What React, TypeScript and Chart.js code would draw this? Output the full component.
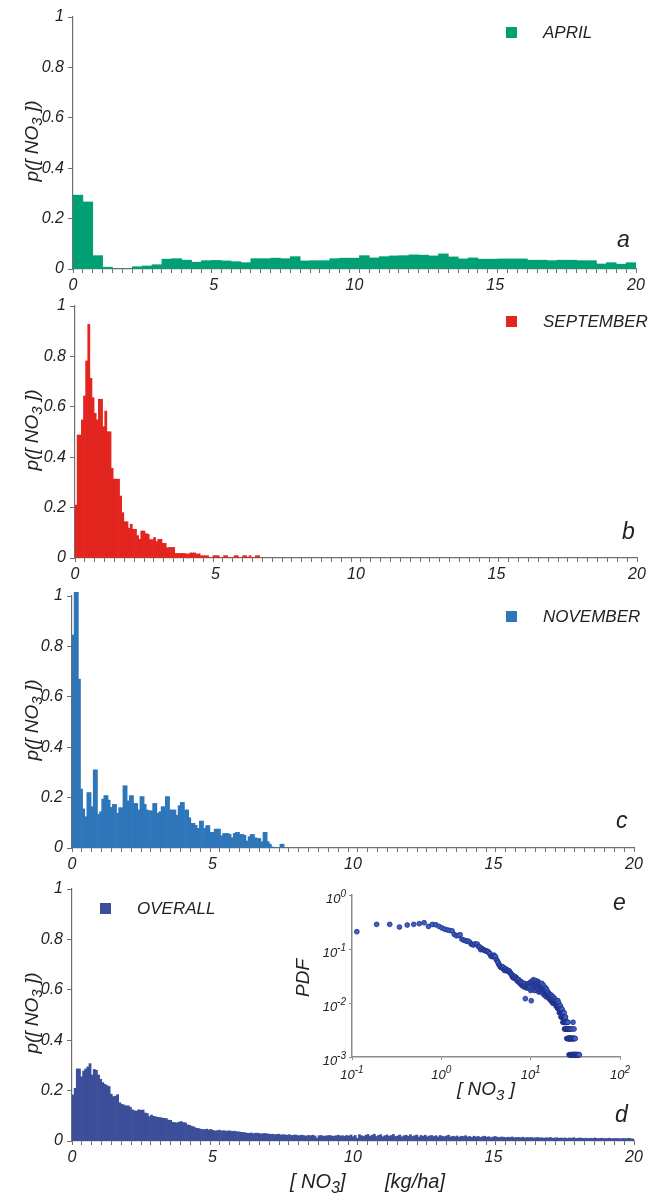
import React, { useEffect, useRef } from "react";
import { Chart, registerables } from "chart.js";

Chart.register(...registerables);

// ---------------- data ----------------
const xTickLabels = [0, 5, 10, 15, 20];
const yTickLabels = [0, 0.2, 0.4, 0.6, 0.8, 1];
const insetXDecades = [0.1, 1, 10, 100];
const insetXExponents = ["-1", "0", "1", "2"];
const insetYDecades = [0.001, 0.01, 0.1, 1];
const insetYExponents = ["-3", "-2", "-1", "0"];
const minorTickIntervals = 57;
const aprilBinWidth = 20 / 57;
const fineBinWidth = 0.0755;

const aprilValues = [
  0.293, 0.266, 0.053, 0.007, 0, 0, 0.009, 0.012, 0.017, 0.039,
  0.041, 0.035, 0.027, 0.033, 0.034, 0.032, 0.029, 0.025, 0.041, 0.041,
  0.043, 0.041, 0.049, 0.032, 0.033, 0.033, 0.041, 0.043, 0.043, 0.053,
  0.044, 0.049, 0.052, 0.053, 0.056, 0.055, 0.052, 0.06, 0.048, 0.04,
  0.044, 0.039, 0.039, 0.04, 0.04, 0.04, 0.035, 0.035, 0.033, 0.035,
  0.035, 0.033, 0.033, 0.02, 0.025, 0.019, 0.025,
];

const septemberValues = [
  0.21, 0.488, 0.488, 0.548, 0.643, 0.782, 0.927, 0.713, 0.636, 0.574,
  0.548, 0.63, 0.63, 0.521, 0.583, 0.501, 0.501, 0.356, 0.313, 0.313,
  0.313, 0.246, 0.18, 0.144, 0.144, 0.118, 0.134, 0.114, 0.114, 0.089,
  0.074, 0.107, 0.107, 0.097, 0.094, 0.073, 0.073, 0.081, 0.065, 0.074,
  0.074, 0.058, 0.058, 0.041, 0.042, 0.042, 0.042, 0.018, 0.018, 0.018,
  0.018, 0.018, 0.016, 0.016, 0.02, 0.02, 0.02, 0.015, 0.017, 0.009,
  0.009, 0.009, 0.009, 0, 0, 0.009, 0.009, 0.009, 0, 0,
  0.009, 0.009, 0, 0, 0, 0.009, 0.009, 0, 0, 0.009,
  0.009, 0, 0.009, 0, 0, 0.009, 0.009,
];

const novemberValues = [
  0.845, 1.015, 1.015, 0.67, 0.234, 0.155, 0.124, 0.22, 0.22, 0.164,
  0.31, 0.31, 0.134, 0.144, 0.194, 0.208, 0.208, 0.19, 0.161, 0.173,
  0.173, 0.138, 0.16, 0.16, 0.247, 0.247, 0.187, 0.208, 0.208, 0.177,
  0.177, 0.151, 0.204, 0.204, 0.173, 0.151, 0.148, 0.148, 0.177, 0.177,
  0.138, 0.144, 0.164, 0.164, 0.204, 0.204, 0.151, 0.151, 0.151, 0.13,
  0.168, 0.181, 0.181, 0.151, 0.151, 0.12, 0.098, 0.098, 0.09, 0.078,
  0.107, 0.107, 0.078, 0.089, 0.089, 0.062, 0.062, 0.075, 0.075, 0.075,
  0.049, 0.058, 0.058, 0.058, 0.054, 0.041, 0.058, 0.062, 0.062, 0.054,
  0.054, 0.05, 0.028, 0.045, 0.054, 0.054, 0.041, 0.038, 0.038, 0.025,
  0.062, 0.062, 0.025, 0.015, 0.004, 0, 0, 0, 0.015, 0.015,
];

const overallValues = [
  0.183, 0.209, 0.286, 0.286, 0.255, 0.278, 0.286, 0.294, 0.307, 0.262,
  0.284, 0.281, 0.262, 0.245, 0.232, 0.225, 0.22, 0.216, 0.186, 0.176,
  0.178, 0.184, 0.152, 0.146, 0.143, 0.139, 0.14, 0.134, 0.124, 0.12,
  0.119, 0.124, 0.122, 0.123, 0.111, 0.109, 0.097, 0.103, 0.098, 0.096,
  0.094, 0.093, 0.091, 0.09, 0.089, 0.083, 0.082, 0.074, 0.073, 0.072,
  0.075, 0.077, 0.073, 0.072, 0.064, 0.062, 0.058, 0.056, 0.051, 0.05,
  0.047, 0.046, 0.045, 0.047, 0.044, 0.046, 0.042, 0.04, 0.041, 0.043,
  0.04, 0.041, 0.039, 0.04, 0.04, 0.038, 0.039, 0.037, 0.036, 0.035,
  0.034, 0.033, 0.031, 0.03, 0.032, 0.029, 0.031, 0.031, 0.029, 0.028,
  0.03, 0.029, 0.028, 0.026, 0.027, 0.025, 0.026, 0.027, 0.024, 0.025,
  0.024, 0.023, 0.025, 0.022, 0.023, 0.024, 0.021, 0.022, 0.023, 0.021,
  0.02, 0.022, 0.021, 0.023, 0.02, 0.012, 0.021, 0.022, 0.019, 0.02,
  0.021, 0.022, 0.02, 0.019, 0.021, 0.023, 0.02, 0.021, 0.019, 0.022,
  0.02, 0.024, 0.017, 0.022, 0.011, 0.025, 0.021, 0.018, 0.023, 0.026,
  0.019, 0.023, 0.027, 0.018, 0.022, 0.025, 0.017, 0.021, 0.024, 0.019,
  0.022, 0.026, 0.018, 0.02, 0.024, 0.017, 0.021, 0.023, 0.019, 0.025,
  0.018, 0.021, 0.024, 0.016, 0.022, 0.019, 0.023, 0.017, 0.02, 0.022,
  0.018, 0.021, 0.016, 0.022, 0.019, 0.017, 0.02, 0.023, 0.016, 0.019,
  0.017, 0.02, 0.015, 0.019, 0.018, 0.021, 0.016, 0.018, 0.014, 0.019,
  0.016, 0.018, 0.014, 0.017, 0.019, 0.015, 0.017, 0.013, 0.016, 0.018,
  0.015, 0.014, 0.016, 0.015, 0.013, 0.015, 0.014, 0.016, 0.013, 0.014,
  0.014, 0.013, 0.015, 0.012, 0.014, 0.013, 0.014, 0.012, 0.013, 0.014,
  0.012, 0.013, 0.011, 0.013, 0.012, 0.014, 0.011, 0.012, 0.013, 0.011,
  0.012, 0.011, 0.012, 0.01, 0.012, 0.011, 0.013, 0.01, 0.011, 0.012,
  0.011, 0.01, 0.011, 0.0099, 0.011, 0.01, 0.012, 0.0099, 0.01, 0.011,
  0.01, 0.0099, 0.01, 0.011, 0.0088, 0.01, 0.0099, 0.01, 0.0088, 0.0099,
  0.01, 0.009, 0.011, 0.009, 0.008, 0.01, 0.009, 0.011, 0.009, 0.008,
  0.009, 0.0088, 0.0077, 0.0099, 0.0088, 0.0077, 0.0088, 0.0066, 0.0088, 0.0077,
  0.0077, 0.0088, 0.0066, 0.0077, 0.0088, 0.0066, 0.0077, 0.0066, 0.0077, 0.0055,
  0.0066, 0.0077, 0.0055, 0.0066, 0.0077, 0.0066, 0.0055, 0.0077, 0.0055, 0.0066,
  0.0066, 0.0055, 0.0066, 0.0044, 0.0066, 0.0055, 0.0066, 0.0044, 0.0055, 0.0066,
  0.0055, 0.0044, 0.0055, 0.0066, 0.0044, 0.0055, 0.0033, 0.0055, 0.0044, 0.0055,
  0.0044, 0.0055, 0.0033, 0.0044, 0.0055, 0.0033, 0.0044, 0.0044, 0.0033, 0.0044,
  0.0044, 0.0033, 0.0044, 0.0033, 0.0044, 0.0022, 0.0044, 0.0033, 0.0033, 0.0044,
  0.0033, 0.0044, 0.0022, 0.0033, 0.0033, 0.0022, 0.0044, 0.0033, 0.0022, 0.0033,
  0.0033, 0.0022, 0.0033, 0.0022, 0.0033, 0.0022, 0.0011, 0.0033, 0.0022, 0.0022,
  0.0033, 0.0022, 0.0011, 0.0022, 0.0033, 0.0022, 0.0011, 0.0022, 0.0022, 0.0011,
  0.0022, 0.0011, 0.0033, 0.0022, 0.0011, 0.0022, 0.0011, 0.0022, 0.0011, 0.0022,
  0.0011, 0.0022, 0.0011, 0.0011, 0.0033, 0.0011, 0.0022, 0.0011, 0.0011, 0.0022,
  0.0011, 0.0011, 0.0022, 0.0011, 0.0044, 0.0011, 0.0022, 0.0011, 0.0011, 0.0022,
  0.0011, 0.0011, 0.0022, 0.0011, 0.0011, 0.0033, 0.0011, 0.0011, 0.0022, 0.0011,
  0.0011, 0.0011, 0.0022, 0.0011, 0.0011, 0.0011, 0.0022, 0.0011, 0.0011, 0.0011,
  0.0011, 0.0011, 0, 0.0011, 0.0011, 0.0011, 0, 0.0011, 0.0011, 0,
  0.0011, 0.0011, 0, 0.0011, 0, 0.0011, 0.0011, 0, 0.0011, 0,
  0.0011, 0, 0.0011, 0, 0.0011, 0, 0, 0.0011, 0, 0.0011,
  0, 0.0011, 0, 0, 0.0011, 0, 0, 0.0011, 0, 0,
  0.0011, 0, 0, 0.0011, 0, 0,
];

// ---------------- styling / layout ----------------
const FONT = '"Liberation Sans", Arial, Helvetica, sans-serif';
const AXIS = "#6f6f6f";
const INSET_AXIS = "#8c8c8c";
const TEXT = "#222222";
const PAGE_W = 656;
const Y_TITLE_X = 38;

Chart.defaults.font.family = FONT;

type PanelSpec = {
  key: string;
  top: number;
  height: number;
  left: number;
  right: number;
  areaTop: number;
  areaBottom: number;
  values: number[];
  binWidth: number;
  color: string;
  legend: string;
  legendSquareX: number;
  legendTextX: number;
  legendBase: number;
  letter: string;
  letterX: number;
  letterBase: number;
  bottomTitle?: boolean;
};

const panels: PanelSpec[] = [
  { key: "a", top: 0, height: 290, left: 73, right: 636, areaTop: 17, areaBottom: 269,
    values: aprilValues, binWidth: aprilBinWidth, color: "#00a074",
    legend: "APRIL", legendSquareX: 506, legendTextX: 543, legendBase: 38,
    letter: "a", letterX: 617, letterBase: 247 },
  { key: "b", top: 290, height: 290, left: 75, right: 637, areaTop: 16, areaBottom: 268,
    values: septemberValues, binWidth: fineBinWidth, color: "#e2251f",
    legend: "SEPTEMBER", legendSquareX: 506, legendTextX: 543, legendBase: 37,
    letter: "b", letterX: 622, letterBase: 249 },
  { key: "c", top: 580, height: 290, left: 72, right: 634, areaTop: 16, areaBottom: 268,
    values: novemberValues, binWidth: fineBinWidth, color: "#2e76ba",
    legend: "NOVEMBER", legendSquareX: 506, legendTextX: 543, legendBase: 42,
    letter: "c", letterX: 616, letterBase: 248 },
  { key: "d", top: 870, height: 326, left: 72, right: 634, areaTop: 19, areaBottom: 271,
    values: overallValues, binWidth: fineBinWidth, color: "#3c4e9a",
    legend: "OVERALL", legendSquareX: 100, legendTextX: 137, legendBase: 44,
    letter: "d", letterX: 615, letterBase: 252, bottomTitle: true },
];

type Part = { text: string; size: number; dy?: number };
const font = (size: number) => `italic ${size}px ${FONT}`;

function drawParts(ctx: CanvasRenderingContext2D, parts: Part[], x: number, y: number, align: "left" | "center" | "right") {
  let total = 0;
  const widths = parts.map((p) => {
    ctx.font = font(p.size);
    const w = ctx.measureText(p.text).width;
    total += w;
    return w;
  });
  let cx = align === "left" ? x : align === "center" ? x - total / 2 : x - total;
  parts.forEach((p, i) => {
    ctx.font = font(p.size);
    ctx.fillText(p.text, cx, y + (p.dy || 0));
    cx += widths[i];
  });
}

function panelDecor(p: PanelSpec) {
  return {
    id: "decor_" + p.key,
    afterDraw(chart: any) {
      const ctx: CanvasRenderingContext2D = chart.ctx;
      const a = chart.chartArea;
      ctx.save();
      ctx.textAlign = "left";
      ctx.textBaseline = "alphabetic";
      ctx.fillStyle = TEXT;
      ctx.save();
      ctx.translate(Y_TITLE_X, (a.top + a.bottom) / 2 - 2);
      ctx.rotate(-Math.PI / 2);
      drawParts(ctx, [{ text: "p([ NO", size: 19 }, { text: "3", size: 15, dy: 4 }, { text: " ])", size: 19 }], 0, 0, "center");
      ctx.restore();
      ctx.fillStyle = p.color;
      ctx.fillRect(p.legendSquareX, p.legendBase - 11, 11, 11);
      ctx.fillStyle = TEXT;
      drawParts(ctx, [{ text: p.legend, size: 17 }], p.legendTextX, p.legendBase, "left");
      drawParts(ctx, [{ text: p.letter, size: 23 }], p.letterX, p.letterBase, "left");
      if (p.bottomTitle) {
        drawParts(ctx, [{ text: "[ NO", size: 20 }, { text: "3", size: 16, dy: 5 }, { text: "]", size: 20 }], 290, 318, "left");
        drawParts(ctx, [{ text: "[kg/ha]", size: 20 }], 385, 318, "left");
      }
      ctx.restore();
    },
  };
}

function makePanel(canvas: HTMLCanvasElement, p: PanelSpec) {
  const minor = Array.from({ length: minorTickIntervals + 1 }, (_, k) => (k * 20) / minorTickIntervals);
  const isMinor = (v: number) => minor.some((m) => Math.abs(m - v) < 1e-9);
  const allTicks = [...minor, ...xTickLabels.filter((v) => !isMinor(v))].sort((u, v) => u - v);
  const labelFor = (v: number) => {
    const m = xTickLabels.find((t) => Math.abs(t - v) < 1e-9);
    return m === undefined ? "" : String(m);
  };
  const tickFont = { family: FONT, size: 16, style: "italic" as const };
  return new Chart(canvas, {
    type: "bar",
    data: {
      datasets: [
        {
          data: p.values.map((v, i) => ({ x: (i + 0.5) * p.binWidth, y: v })),
          backgroundColor: p.color,
          borderWidth: 0,
          barThickness: "flex",
          barPercentage: 1,
          categoryPercentage: 1,
          clip: { left: 0, right: 0, top: 12, bottom: 0 },
        } as any,
      ],
    },
    options: {
      animation: false,
      responsive: false,
      events: [],
      layout: { padding: { top: p.areaTop, right: PAGE_W - p.right, left: 0, bottom: 0 } },
      plugins: { legend: { display: false }, tooltip: { enabled: false } },
      scales: {
        x: {
          type: "linear",
          min: 0,
          max: 20,
          offset: false,
          afterBuildTicks: (s: any) => { s.ticks = allTicks.map((v) => ({ value: v })); },
          afterFit: (s: any) => { s.height = p.height - p.areaBottom; },
          ticks: {
            autoSkip: false, maxRotation: 0, minRotation: 0, padding: 3, color: TEXT, font: tickFont,
            callback: (v: any) => labelFor(Number(v)),
          },
          grid: {
            offset: false, drawOnChartArea: false, drawTicks: true, tickLength: 4, tickWidth: 1,
            tickColor: (c: any) => (c.tick && isMinor(c.tick.value) ? AXIS : "rgba(0,0,0,0)"),
          },
          border: { display: true, color: AXIS, width: 1.2 },
        },
        y: {
          type: "linear",
          min: 0,
          max: 1,
          afterBuildTicks: (s: any) => { s.ticks = yTickLabels.map((v) => ({ value: v })); },
          afterFit: (s: any) => { s.width = p.left; },
          ticks: { padding: 4, color: TEXT, font: tickFont, callback: (v: any) => String(v) },
          grid: { drawOnChartArea: false, tickLength: 5, tickColor: AXIS, tickWidth: 1 },
          border: { display: true, color: AXIS, width: 1.2 },
        },
      },
    } as any,
    plugins: [panelDecor(p)],
  });
}

const insetDecor = {
  id: "insetDecor",
  afterDraw(chart: any) {
    const ctx: CanvasRenderingContext2D = chart.ctx;
    const a = chart.chartArea;
    const xs = chart.scales.x;
    const ys = chart.scales.y;
    ctx.save();
    ctx.textAlign = "left";
    ctx.textBaseline = "alphabetic";
    ctx.fillStyle = TEXT;
    insetYDecades.forEach((v, i) => {
      const py = ys.getPixelForValue(v);
      drawParts(ctx, [{ text: "10", size: 13 }, { text: insetYExponents[i], size: 10, dy: -6 }], a.left - 6, py + 8, "right");
    });
    insetXDecades.forEach((v, i) => {
      const px = xs.getPixelForValue(v);
      drawParts(ctx, [{ text: "10", size: 13 }, { text: insetXExponents[i], size: 10, dy: -6 }], px, a.bottom + 22, "center");
    });
    ctx.save();
    ctx.translate(29, (a.top + a.bottom) / 2 + 2);
    ctx.rotate(-Math.PI / 2);
    drawParts(ctx, [{ text: "PDF", size: 19 }], 0, 0, "center");
    ctx.restore();
    drawParts(ctx, [{ text: "[ NO", size: 19 }, { text: "3", size: 15, dy: 5 }, { text: " ]", size: 19 }], 177, 220, "left");
    drawParts(ctx, [{ text: "e", size: 23 }], 333, 35, "left");
    ctx.restore();
  },
};

function makeInset(canvas: HTMLCanvasElement) {
  const pts = overallValues
    .map((v, i) => ({ x: (i + 0.5) * fineBinWidth, y: v }))
    .filter((pt) => pt.y > 0);
  return new Chart(canvas, {
    type: "scatter",
    data: {
      datasets: [
        {
          data: pts,
          pointRadius: 2.4,
          pointBackgroundColor: "#3d61c6",
          pointBorderColor: "#1f2e86",
          pointBorderWidth: 0.8,
          clip: { left: 0, right: 8, top: 6, bottom: 6 },
        } as any,
      ],
    },
    options: {
      animation: false,
      responsive: false,
      events: [],
      layout: { padding: { top: 20, right: 36, left: 0, bottom: 0 } },
      plugins: { legend: { display: false }, tooltip: { enabled: false } },
      scales: {
        x: {
          type: "logarithmic",
          min: 0.1,
          max: 100,
          afterBuildTicks: (s: any) => { s.ticks = insetXDecades.map((v) => ({ value: v })); },
          afterFit: (s: any) => { s.height = 53; },
          ticks: { display: false },
          grid: { drawOnChartArea: false, tickLength: 3, tickColor: INSET_AXIS },
          border: { display: true, color: INSET_AXIS, width: 1.5 },
        },
        y: {
          type: "logarithmic",
          min: 0.001,
          max: 1,
          afterBuildTicks: (s: any) => { s.ticks = insetYDecades.map((v) => ({ value: v })); },
          afterFit: (s: any) => { s.width = 72; },
          ticks: { display: false },
          grid: { drawOnChartArea: false, tickLength: 3, tickColor: INSET_AXIS },
          border: { display: true, color: INSET_AXIS, width: 1.5 },
        },
      },
    } as any,
    plugins: [insetDecor],
  });
}

export default function App() {
  const refs = useRef<(HTMLCanvasElement | null)[]>([]);
  const insetRef = useRef<HTMLCanvasElement | null>(null);

  useEffect(() => {
    const charts: Chart[] = [];
    panels.forEach((p, i) => {
      const c = refs.current[i];
      if (c) charts.push(makePanel(c, p));
    });
    if (insetRef.current) charts.push(makeInset(insetRef.current));
    return () => charts.forEach((c) => c.destroy());
  }, []);

  return (
    <div style={{ position: "absolute", left: 0, top: 0, width: 656, height: 1196, background: "#ffffff" }}>
      {panels.map((p, i) => (
        <canvas
          key={p.key}
          ref={(el) => { refs.current[i] = el; }}
          width={656}
          height={p.height}
          style={{ position: "absolute", left: 0, top: p.top, width: 656, height: p.height }}
        />
      ))}
      <canvas
        ref={insetRef}
        width={376}
        height={235}
        style={{ position: "absolute", left: 280, top: 875, width: 376, height: 235 }}
      />
    </div>
  );
}
